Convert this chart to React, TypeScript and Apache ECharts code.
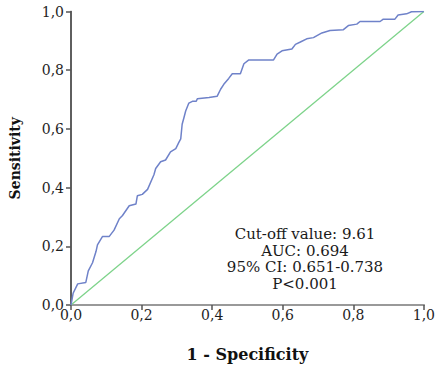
import React, { useEffect, useRef } from "react";
import * as echarts from "echarts";

const fpr = [
  0, 0.006, 0.019, 0.042, 0.049, 0.061, 0.071, 0.075, 0.089, 0.108, 0.122, 0.137, 0.146, 0.165, 0.184, 0.188,
  0.202, 0.217, 0.235, 0.24, 0.254, 0.268, 0.282, 0.297, 0.306, 0.311, 0.315, 0.32, 0.325, 0.334, 0.344, 0.355,
  0.358, 0.391, 0.414, 0.424, 0.433, 0.447, 0.457, 0.48, 0.49, 0.504, 0.574, 0.584, 0.598, 0.626, 0.636, 0.65,
  0.668, 0.687, 0.711, 0.734, 0.772, 0.786, 0.81, 0.819, 0.876, 0.885, 0.918, 0.927, 0.951, 0.965, 1,
];
const tpr = [
  0, 0.04, 0.072, 0.077, 0.116, 0.144, 0.183, 0.205, 0.233, 0.233, 0.255, 0.294, 0.305, 0.338, 0.344, 0.372,
  0.377, 0.394, 0.444, 0.465, 0.488, 0.494, 0.522, 0.533, 0.555, 0.566, 0.616, 0.638, 0.661, 0.688, 0.694, 0.694,
  0.703, 0.707, 0.711, 0.735, 0.752, 0.772, 0.788, 0.788, 0.822, 0.835, 0.835, 0.855, 0.866, 0.872, 0.888, 0.896,
  0.907, 0.911, 0.927, 0.935, 0.938, 0.952, 0.957, 0.966, 0.966, 0.974, 0.974, 0.988, 0.992, 0.999, 1,
];
const refX = [0, 1];
const refY = [0, 1];
const annotationLines = ["Cut-off value: 9.61", "AUC: 0.694", "95% CI: 0.651-0.738", "P<0.001"];
const xTitle = "1 - Specificity";
const yTitle = "Sensitivity";

export default function App() {
  const ref = useRef<HTMLDivElement>(null);
  useEffect(() => {
    if (!ref.current) return;
    const chart = echarts.init(ref.current, null, { renderer: "svg" });
    const font = "DejaVu Serif";
    const fmt = (v: number) => v.toFixed(1).replace(".", ",");
    const axisCommon = {
      type: "value" as const,
      min: 0,
      max: 1,
      interval: 0.2,
      splitLine: { show: false },
    };
    chart.setOption({
      animation: false,
      backgroundColor: "#ffffff",
      grid: { left: 70, right: 14, top: 11.5, bottom: 55.5, containLabel: false },
      xAxis: [
        {
          ...axisCommon,
          position: "bottom",
          name: xTitle,
          nameLocation: "middle",
          nameGap: 41,
          nameTextStyle: { fontFamily: font, fontWeight: "bold", fontSize: 16, color: "#111" },
          axisLine: { show: true, lineStyle: { color: "#555", width: 1.5 } },
          axisTick: { show: true, length: 5, lineStyle: { color: "#555", width: 1.5 } },
          axisLabel: { formatter: fmt, fontFamily: font, fontSize: 14, color: "#1e1e1e", margin: 3 },
        },
        {
          ...axisCommon,
          position: "top",
          axisLine: { show: true, lineStyle: { color: "#999", width: 2 } },
          axisTick: { show: false },
          axisLabel: { show: false },
        },
      ],
      yAxis: [
        {
          ...axisCommon,
          position: "left",
          name: yTitle,
          nameLocation: "middle",
          nameGap: 49,
          nameRotate: 90,
          nameTextStyle: { fontFamily: font, fontWeight: "bold", fontSize: 14, color: "#111" },
          axisLine: { show: true, lineStyle: { color: "#555", width: 1.5 } },
          axisTick: { show: true, length: 5, lineStyle: { color: "#555", width: 1.5 } },
          axisLabel: { formatter: fmt, fontFamily: font, fontSize: 14, color: "#1e1e1e", margin: 7 },
        },
        {
          ...axisCommon,
          position: "right",
          axisLine: { show: true, lineStyle: { color: "#555", width: 1.5 } },
          axisTick: { show: false },
          axisLabel: { show: false },
        },
      ],
      series: [
        {
          type: "line",
          data: refX.map((x, i) => [x, refY[i]]),
          showSymbol: false,
          lineStyle: { color: "#7dd38a", width: 1.3 },
          z: 2,
        },
        {
          type: "line",
          data: fpr.map((x, i) => [x, tpr[i]]),
          showSymbol: false,
          lineStyle: { color: "#6f82c9", width: 1.5 },
          z: 3,
        },
      ],
      graphic: [
        {
          type: "text",
          x: 305,
          y: 226,
          style: {
            text: annotationLines.join("\n"),
            fontFamily: font,
            fontSize: 15,
            lineHeight: 16.5,
            fill: "#1a1a1a",
            align: "center",
            verticalAlign: "top",
          },
        },
      ],
    });
    return () => chart.dispose();
  }, []);
  return (
    <div
      ref={ref}
      style={{ position: "fixed", left: 0, top: 0, width: 438, height: 367, background: "#fff" }}
    />
  );
}
